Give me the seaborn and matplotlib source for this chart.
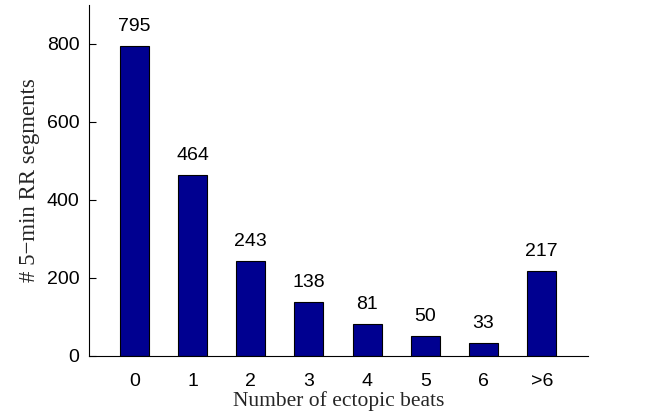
import matplotlib
matplotlib.use("Agg")
import matplotlib.pyplot as plt
import seaborn as sns
import pandas as pd

categories = ["0", "1", "2", "3", "4", "5", "6", ">6"]
counts = [795, 464, 243, 138, 81, 50, 33, 217]
yticks = [0, 200, 400, 600, 800]

sns.set_theme(style="white")
plt.rcParams["font.family"] = ["Liberation Sans", "DejaVu Sans"]

df = pd.DataFrame({"beats": categories, "segments": counts})

fig = plt.figure(figsize=(6.56, 4.12), dpi=100)
ax = fig.add_axes([0.1357, 0.136, 0.761, 0.852])

sns.barplot(data=df, x="beats", y="segments", ax=ax, color="#000090",
            saturation=1, width=0.5, edgecolor="black", linewidth=0.8)

for i, v in enumerate(counts):
    ax.annotate(str(v), (i, v), xytext=(0, 8), textcoords="offset points",
                ha="center", va="bottom", fontsize=14, color="black")

ax.set_xlim(-0.78, 7.8)
ax.set_ylim(0, 900)
ax.set_yticks(yticks)
ax.set_yticklabels([str(t) for t in yticks])

for side in ("top", "right"):
    ax.spines[side].set_visible(False)
for side in ("left", "bottom"):
    ax.spines[side].set_color("black")
    ax.spines[side].set_linewidth(0.8)

ax.tick_params(axis="y", direction="in", length=5, width=0.8, colors="black",
               labelsize=14, pad=7, left=True)
ax.tick_params(axis="x", length=0, labelsize=14, pad=12, colors="black")

serif = ["Liberation Serif", "DejaVu Serif"]
ax.set_xlabel("Number of ectopic beats", family=serif, fontsize=15.5, labelpad=1)
ax.set_ylabel("# 5\u2212min RR segments", family=serif, fontsize=16.5, labelpad=5)

fig.savefig("out.png", dpi=100)
